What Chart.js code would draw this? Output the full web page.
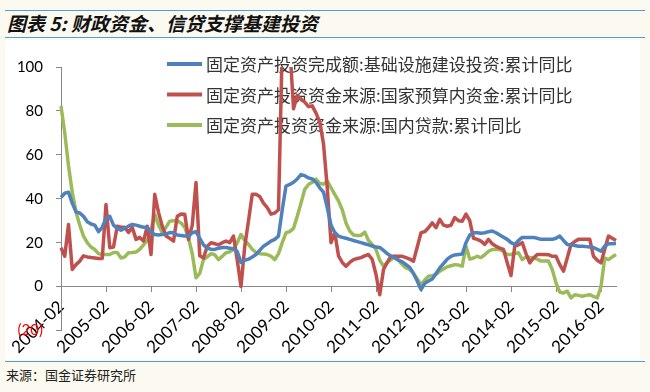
<!DOCTYPE html>
<html>
<head>
<meta charset="utf-8">
<script src="https://cdn.jsdelivr.net/npm/chart.js@4"></script>
<style>
  body { margin: 0; width: 650px; height: 392px; overflow: hidden; background: #fcfaf0; position: relative; }
  .line { position: absolute; left: 5px; width: 640px; height: 0; border-top: 1.5px solid #4e9fd6; }
  #title { position: absolute; left: 7px; top: 12px; font-family: "Noto Sans CJK SC", sans-serif; font-size: 19px; font-weight: bold; font-style: italic; color: #111; line-height: 22px; white-space: nowrap; }
  #box { position: absolute; left: 5px; top: 40px; width: 635px; height: 320px; background: #fff; }
  #foot { position: absolute; left: 6px; top: 367px; font-family: "Noto Sans CJK SC", sans-serif; font-size: 13px; color: #222; line-height: 16px; }
</style>
</head>
<body>
<div class="line" style="top:10px"></div>
<div id="title">图表 5: 财政资金、信贷支撑基建投资</div>
<div class="line" style="top:37px"></div>
<div id="box"><canvas id="grafico"></canvas></div>
<div class="line" style="top:361px"></div>
<div id="foot">来源：国金证券研究所</div>
<script>
// months 2004-02 .. 2016-06
var meses = [];
for (var i = 0; i < 149; i++) {
  var y = 2004 + Math.floor((1 + i) / 12), m = ((1 + i) % 12) + 1;
  meses.push(y + '-' + (m < 10 ? '0' + m : m));
}

var nombres = [
  '固定资产投资完成额:基础设施建设投资:累计同比',
  '固定资产投资资金来源:国家预算内资金:累计同比',
  '固定资产投资资金来源:国内贷款:累计同比'
];

var infra = [40.6,42.5,43,38,34,33.5,32,29.5,28.5,28, 25,27,31,32,28,26.5,25.7,26.5,27.5,28.3,
  28,27.5,27,27,25,23.7,23.5,23.7,24,24.6, 24.5,23.5,23.3,23,23,24.5,25,22,19,17.5,
  17,16.9,17.5,17.8,17.8,17.5,17.2,16,11,12, 12.5,13.5,14.6,16.5,18.4,19.5,20.7,21.5,23,35,
  45.8,46.5,47.5,49,51,50.5,49.5,49,47.5,45, 43,36,28,24.6,23,22.4,22,21.5,21,20.5,
  20,19.5,19,18.5,18,17.8,16.5,15,13.8,13, 12,11.3,10,8.7,6,2.5,-1.4,1.5,2.5,3.5,
  6,8.5,10.5,12.5,13.8,14.4,14.6,14.8,20,23.5, 24.5,24.5,24.3,24.5,25,25.3,24.5,23.5,22.5,21.5,
  20,19.2,21,22.4,22.4,22.4,22.4,22,21.5,21.5, 21.5,21.5,22,23,21,19.2,19,18.7,18.4,18.4,
  18.2,18,17.8,17,16.1,18.5,19.5,19.5,19.6];

var presupuesto = [17.7,13.8,28.3,7.8,10,11.6,14,13.5,13.2,13, 12.8,12.8,37.4,17.7,18,27.5,27,27,24.6,27,
  21.5,22.4,20.7,27.5,14.6,42,33.8,27.5,23,22, 20.7,32,33,32.9,21.5,28,47.4,14,13,18.4,
  20,19.5,19,20,20.7,20,23,12,0,18.4, 30,42,42,41,38,36,33,33.5,35,110,
  130,110,81,87,85.4,84,82,82.3,79,75, 65,45,20,24.6,14,11,9.3,11,12.3,12.8,
  13.2,14,14.6,12.3,5.5,-3.7,7.8,11,13.8,13.8, 13.8,13.8,13.2,12.5,11.6,18,24.5,25,26.8,29,
  26.8,30.6,28,27.5,27.9,31.4,30,29.8,33,30, 22,21.5,20.7,19.2,21.5,19.5,18.4,17.5,16.9,10.8,
  5,18.4,19,20,15,10.8,13,14.6,14.6,14.6, 14.5,13.8,13.8,10,7,13,19.2,20.5,21.5,21.5,
  21.5,21.5,13.8,12,10.8,17,23,22,21];

var prestamos = [82.3,70,55,43,34,28,23,20,18,16.9, 15,14.6,14.6,14.6,15.5,15.5,13,13.5,15.4,15.5,
  15.7,17,19,21,26,32.9,28,24.5,27,29.8, 30,30,29,27,22,15,4,6,12.3,13.5,
  15,14.5,12.3,13.8,15.4,15.8,17,20,23.7,21, 19.2,17,15.5,15,14.8,14.6,13.8,12.3,15,20,
  24.5,25,26.5,32,38,44.3,46.5,47.5,48.9,47, 46.6,48.1,45,42,39,35,29,25.3,23.5,23.3,
  23.3,24.8,21,19.2,16.9,12,9.3,11,12.3,13.8, 12,10,8.5,7.8,6,3.5,0.9,3,4.7,5,
  5.5,7,8,9,9.5,10,9.8,9.3,18.4,12.5, 13,13.8,13.2,14.5,16.1,16.9,16.9,16.9,16,14.6,
  14.6,15,15.4,12.3,13.5,13.2,13,12.5,11.6,11.6, 11.6,7.8,1.7,-2.5,-2.9,-2.1,-5.2,-3.7,-4,-4.4,
  -4,-3.7,-4.5,-5.2,0,13,12.3,13.5,14.6];

var colores = ['#4f81bd', '#c0504d', '#9bbb59'];

// legend drawn inside the plot, under the lines
var leyendaDentro = {
  id: 'leyendaDentro',
  beforeDatasetsDraw: function (chart) {
    var ctx = chart.ctx, area = chart.chartArea;
    ctx.save();
    ctx.font = '17px "Noto Sans CJK SC", sans-serif';
    ctx.textBaseline = 'middle';
    chart.data.datasets.forEach(function (ds, k) {
      var yy = area.top - 3 + k * 30.5;
      ctx.strokeStyle = ds.borderColor;
      ctx.lineWidth = 4;
      ctx.beginPath();
      ctx.moveTo(area.left + 106, yy);
      ctx.lineTo(area.left + 141, yy);
      ctx.stroke();
      ctx.fillStyle = '#333';
      ctx.fillText(ds.label, area.left + 145, yy + 1);
    });
    ctx.restore();
  }
};

var miGrafico = document.getElementById('grafico').getContext('2d');

var chart = new Chart(miGrafico, {
  type: 'line',
  data: {
    labels: meses,
    datasets: [infra, presupuesto, prestamos].map(function (serie, k) {
      return {
        label: nombres[k],
        data: serie,
        borderColor: colores[k],
        backgroundColor: colores[k],
        borderWidth: 3.5,
        pointRadius: 0,
        tension: 0,
        borderJoinStyle: 'round'
      };
    })
  },
  options: {
    responsive: true,
    maintainAspectRatio: false,
    animation: false,
    layout: { padding: { top: 27, bottom: 29.5, right: 24, left: 0 } },
    plugins: { legend: { display: false }, tooltip: { enabled: false } },
    scales: {
      x: {
        position: { y: 0 },
        offset: false,
        grid: { drawOnChartArea: false, tickLength: 5, color: '#888' },
        border: { color: '#888', width: 1 },
        ticks: {
          autoSkip: false,
          minRotation: 45,
          maxRotation: 45,
          padding: 5,
          color: '#000',
          font: { family: 'Lato', size: 17 },
          callback: function (v, idx) {
            return meses[idx].slice(5) === '02' ? meses[idx] : null;
          }
        }
      },
      y: {
        min: -20,
        max: 100,
        afterFit: function (s) { s.width = 56; },
        grid: { drawOnChartArea: false, tickLength: 5, color: '#888' },
        border: { color: '#888', width: 1 },
        ticks: {
          stepSize: 20,
          padding: 13,
          font: { family: 'Lato', size: 15 },
          color: function (c) { return c.tick.value < 0 ? '#ff0000' : '#000'; },
          callback: function (v) { return v < 0 ? '(' + Math.abs(v) + ')' : v; }
        }
      }
    }
  },
  plugins: [leyendaDentro]
});
</script>
</body>
</html>
